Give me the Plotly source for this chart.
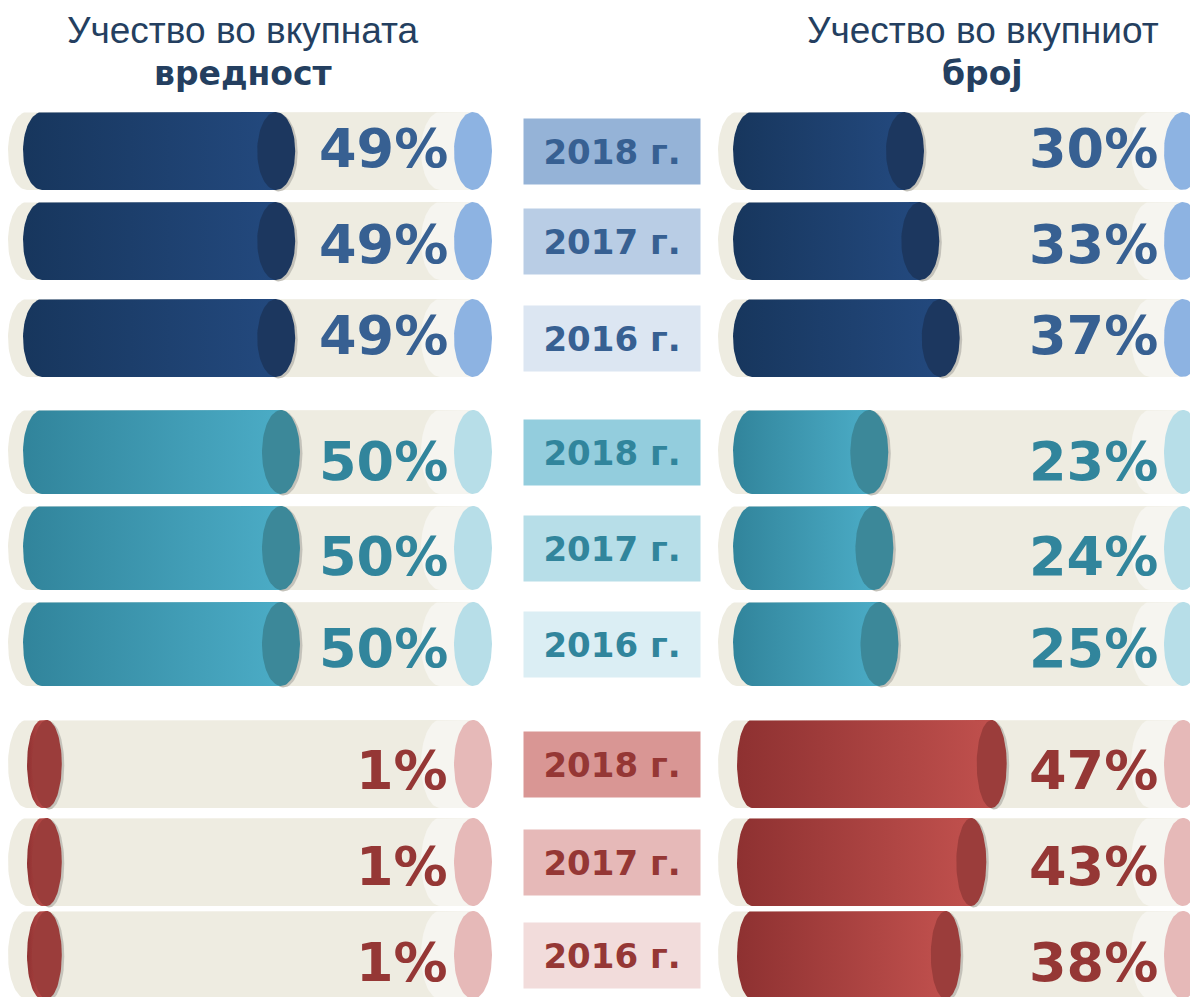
import numpy as np
import plotly.graph_objects as go

# ---------------- data ----------------
GROUPS = ["Група 1", "Група 2", "Група 3"]
YEARS = ["2018 г.", "2017 г.", "2016 г."]
VALUE_SHARE = [49, 49, 49, 50, 50, 50, 1, 1, 1]      # Учество во вкупната вредност (%)
COUNT_SHARE = [30, 33, 37, 23, 24, 25, 47, 43, 38]   # Учество во вкупниот број (%)
LEFT_TITLE = ["Учество во вкупната", "вредност"]
RIGHT_TITLE = ["Учество во вкупниот", "број"]

# ---------------- layout / style ----------------
W, H = 1190, 997
ROW_Y = [151, 241, 338, 452, 548, 644, 764, 862, 955]
LABEL_Y = [148, 244, 335, 461, 556, 648, 770, 866, 962]
GROUP_TUBE_H = [78, 84, 88]
TUBE_RX = 19                # px half width of tube ellipses
BAR_RX = [19, 19, 15]       # px half width of bar ellipses per group
TUBE_START = -15            # px offset from bar base
TUBE_END = 431
HIGHLIGHT_START = 398
LABEL_RIGHT = 408

BEIGE = "#EEECE1"
BEIGE_LIGHT = "#F6F5F0"
SHADOW = "#C4C2BA"
GROUP_STYLE = [
    dict(grad=["#17365D", "#23497E"], cap="#1C375F", end="#8DB3E2", text="#376092",
         boxes=["#95B3D7", "#B9CDE5", "#DCE6F2"]),
    dict(grad=["#31849B", "#4BACC6"], cap="#3C8899", end="#B7DEE8", text="#31859C",
         boxes=["#93CDDD", "#B7DEE8", "#DBEEF4"]),
    dict(grad=["#8E3131", "#C0504D"], cap="#9B3D3B", end="#E6B9B8", text="#953735",
         boxes=["#D99694", "#E6B9B8", "#F2DCDB"]),
]

PANELS = [
    dict(xa="x", axis="xaxis", domain=[0.0, 0.5], base=42, scale=4.78, values=VALUE_SHARE),
    dict(xa="x2", axis="xaxis2", domain=[0.5, 1.0], base=752, scale=5.1, values=COUNT_SHARE),
]

fig = go.Figure()
T = np.linspace(0, np.pi, 40)
TF = np.linspace(0, 2 * np.pi, 80)


def add_poly(xs, ys, xa, color=None, grad=None):
    kw = dict(x=list(xs), y=list(ys), mode="lines", line=dict(width=0), fill="toself",
              hoverinfo="skip", showlegend=False, xaxis=xa, yaxis="y")
    if grad:
        kw["fillgradient"] = dict(type="horizontal", colorscale=[[0, grad[0]], [1, grad[1]]])
    else:
        kw["fillcolor"] = color
    fig.add_trace(go.Scatter(**kw))


def body(x0, x1, cy, h, rx):
    # rectangle from x0 to x1 with rounded (half ellipse) left end
    xs = [x1, x0] + list(x0 - rx * np.sin(T)) + [x1]
    ys = [cy - h / 2, cy - h / 2] + list(cy - h / 2 * np.cos(T)) + [cy + h / 2]
    return xs, ys


def ellipse(cx, cy, h, rx):
    return cx + rx * np.cos(TF), cy + h / 2 * np.sin(TF)


for p in PANELS:
    s = p["scale"]
    for i, v in enumerate(p["values"]):
        g = i // 3
        st = GROUP_STYLE[g]
        cy = ROW_Y[i]
        h = GROUP_TUBE_H[g]
        trx = TUBE_RX / s
        brx = BAR_RX[g] / s
        # background tube
        add_poly(*body(TUBE_START / s, TUBE_END / s, cy, h, trx), p["xa"], color=BEIGE)
        add_poly(*body(HIGHLIGHT_START / s, TUBE_END / s, cy, h, trx), p["xa"], color=BEIGE_LIGHT)
        add_poly(*ellipse(TUBE_END / s, cy, h, trx), p["xa"], color=st["end"])
        # value bar
        add_poly(*ellipse(v + 2.5 / s, cy + 1.5, h, brx), p["xa"], color=SHADOW)
        add_poly(*body(0, v, cy, h, brx), p["xa"], grad=st["grad"])
        add_poly(*ellipse(v, cy, h, brx), p["xa"], color=st["cap"])
        fig.add_annotation(x=LABEL_RIGHT / s, y=LABEL_Y[i], xref=p["xa"], yref="y",
                           xanchor="right", yanchor="middle", showarrow=False,
                           text=f"{v}%",
                           font=dict(family="DejaVu Sans", size=54, color=st["text"], weight="bold"))

# year boxes
for i in range(9):
    g = i // 3
    st = GROUP_STYLE[g]
    fig.add_annotation(x=612 / W, y=ROW_Y[i], xref="paper", yref="y", xanchor="center",
                       yanchor="middle", showarrow=False, text=YEARS[i % 3],
                       width=176, height=65, borderpad=0, bgcolor=st["boxes"][i % 3],
                       font=dict(family="DejaVu Sans", size=34, color=st["text"], weight="bold"))

# titles
TITLE_COLOR = "#243F60"
for cx, lines in [(243, LEFT_TITLE), (983, RIGHT_TITLE)]:
    fig.add_annotation(x=cx / W, y=30, xref="paper", yref="y", showarrow=False,
                       text=lines[0], xanchor="center", yanchor="middle",
                       font=dict(family="Liberation Sans", size=37, color=TITLE_COLOR))
    fig.add_annotation(x=cx / W, y=73, xref="paper", yref="y", showarrow=False,
                       text=lines[1], xanchor="center", yanchor="middle",
                       font=dict(family="DejaVu Sans", size=33, color=TITLE_COLOR, weight="bold"))

layout_axes = {}
for p in PANELS:
    lo = (p["domain"][0] * W - p["base"]) / p["scale"]
    hi = (p["domain"][1] * W - p["base"]) / p["scale"]
    layout_axes[p["axis"]] = dict(domain=p["domain"], range=[lo, hi], visible=False,
                                  fixedrange=True, anchor="y")

fig.update_layout(
    width=W, height=H, margin=dict(l=0, r=0, t=0, b=0),
    paper_bgcolor="white", plot_bgcolor="white",
    yaxis=dict(range=[H, 0], domain=[0, 1], visible=False, fixedrange=True),
    **layout_axes,
)

fig.write_html("out.html", config={"displayModeBar": False},
               post_script="document.body.style.margin='0';document.body.style.overflow='hidden';")
